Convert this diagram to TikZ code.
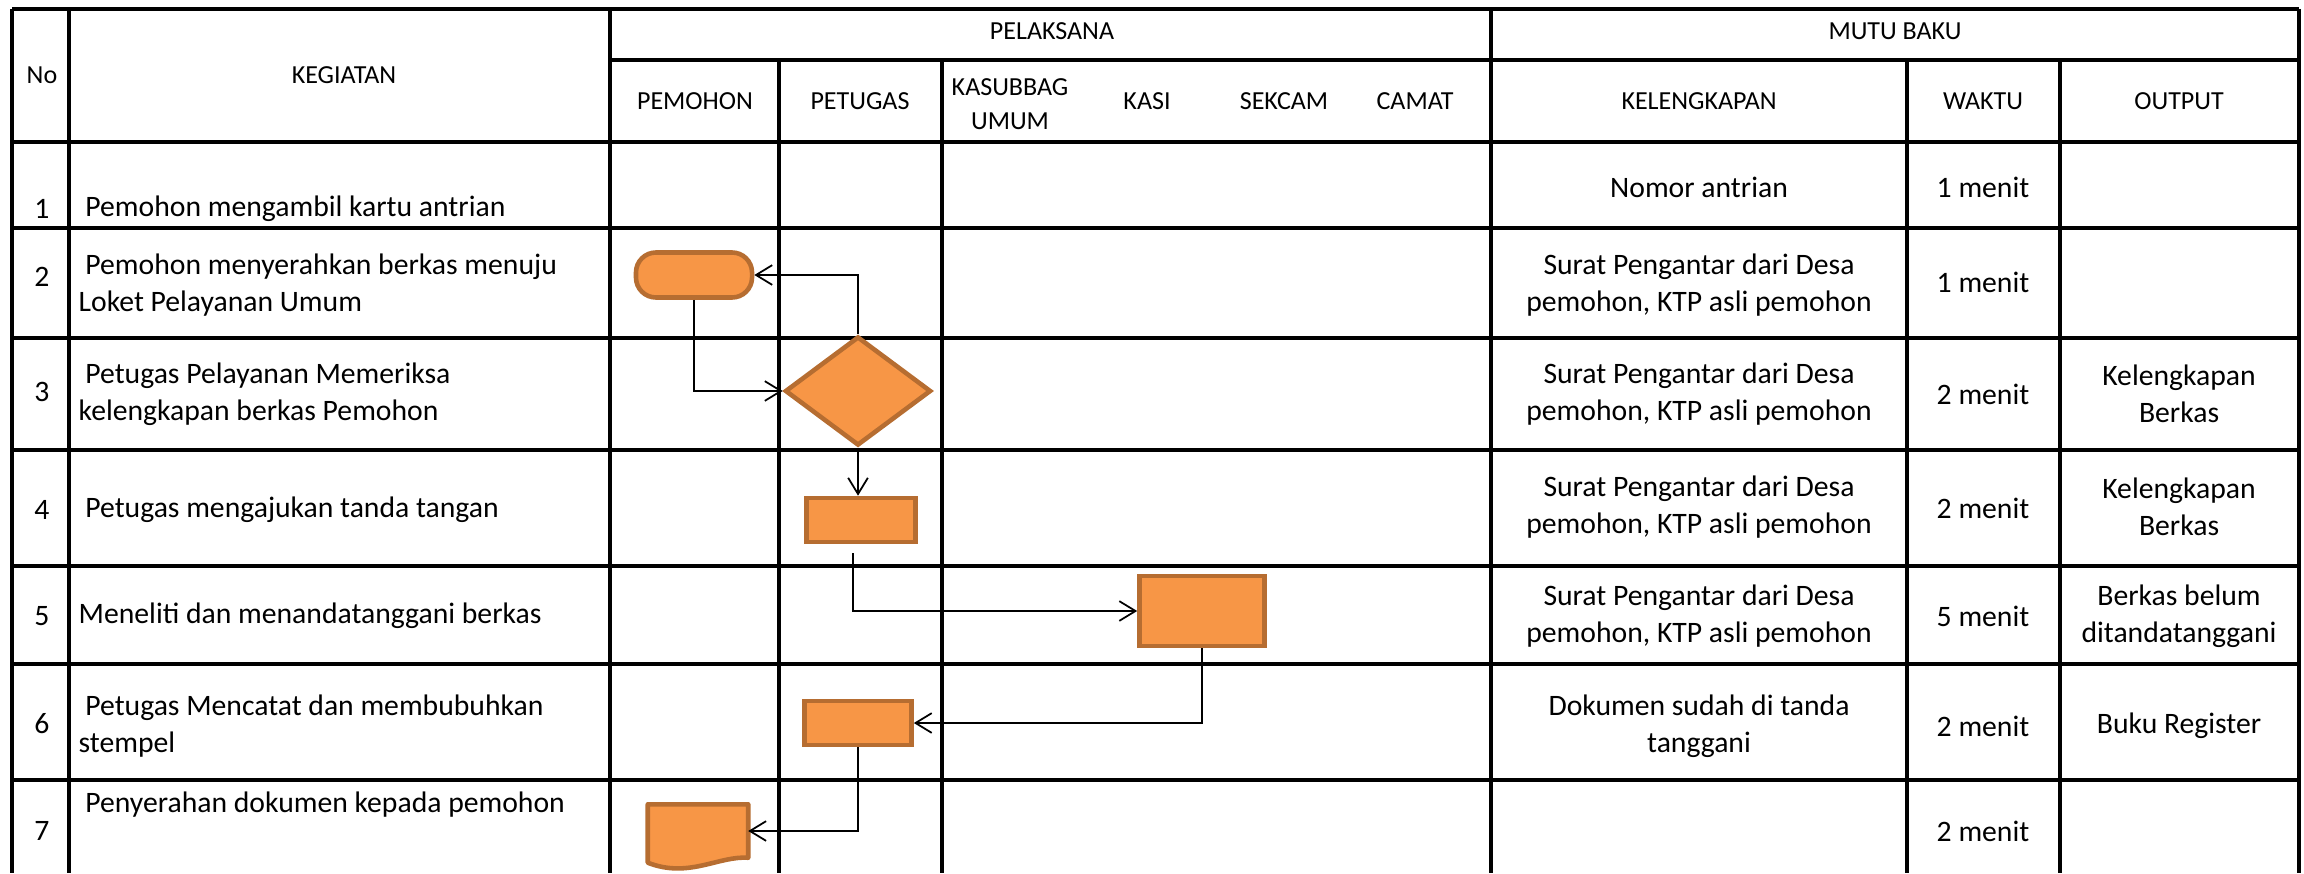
\documentclass[tikz,border=0pt]{standalone}
\usepackage{fontspec}
\setmainfont{Carlito}
\usetikzlibrary{arrows.meta,positioning,calc,shapes.geometric}

\definecolor{boxfill}{HTML}{F79646}
\definecolor{boxline}{HTML}{B66D31}
\tikzset{
  tabline/.style={line width=0.9pt},
  hd/.style={font=\fontsize{7.4}{9.7}\selectfont,inner sep=0pt,align=center},
  tx/.style={font=\fontsize{8.44}{10.5}\selectfont,inner sep=0pt,align=center},
  keg/.style={tx,align=left,anchor=west},
  act/.style={fill=boxfill,draw=boxline,line width=1.3pt,inner sep=0pt},
  flow/.style={line width=0.5pt,-{Straight Barb[length=4.6pt,width=5.6pt]}}
}

\begin{document}
\begin{tikzpicture}[x=0.01cm,y=-0.01cm]
 \useasboundingbox (0,0) rectangle (2304,873);
 % table
 \draw[tabline] (12,9)--(2299,9);
 \draw[tabline] (610,60)--(2299,60);
 \foreach \y in {142,228,338,450,566,664,780}
   \draw[tabline] (12,\y)--(2299,\y);
 \foreach \x in {12,69,610,1491,2299}
   \draw[tabline] (\x,9)--(\x,873);
 \foreach \x in {779,942,1907,2060}
   \draw[tabline] (\x,60)--(\x,873);
 % header
 \node[hd] (hno) at (42,75) {No};
 \node[hd] (hkeg) at (344,75) {KEGIATAN};
 \node[hd] (hpel) at (1052,31) {PELAKSANA};
 \node[hd] (hmutu) at (1895,31) {MUTU BAKU};
 \node[hd] (hpem) at (695,101) {PEMOHON};
 \node[hd] (hpet) at (860,101) {PETUGAS};
 \node[hd] (hkas) at (1010,104) {KASUBBAG\\UMUM};
 \node[hd] (hkasi) at (1147,101) {KASI};
 \node[hd] (hsek) at (1284,101) {SEKCAM};
 \node[hd] (hcam) at (1415,101) {CAMAT};
 \node[hd] (hkel) at (1699,101) {KELENGKAPAN};
 \node[hd] (hwak) at (1983,101) {WAKTU};
 \node[hd] (hout) at (2179,101) {OUTPUT};
 % nomor
 \foreach \i/\y in {1/209,2/277,3/392,4/510,5/616,6/724,7/831}
   \node[tx] (no\i) at (42,\y) {\i};
 % kegiatan
 \node[keg] (k1) at (78,209) {\ Pemohon mengambil kartu antrian};
 \node[keg] (k2) at (78,285) {\ Pemohon menyerahkan berkas menuju\\Loket Pelayanan Umum};
 \node[keg] (k3) at (78,394) {\ Petugas Pelayanan Memeriksa\\kelengkapan berkas Pemohon};
 \node[keg] (k4) at (78,510) {\ Petugas mengajukan tanda tangan};
 \node[keg] (k5) at (78,616) {Meneliti dan menandatanggani berkas};
 \node[keg] (k6) at (78,726) {\ Petugas Mencatat dan membubuhkan\\stempel};
 \node[keg] (k7) at (78,805) {\ Penyerahan dokumen kepada pemohon};
 % kelengkapan
 \node[tx] (l1) at (1699,187) {Nomor antrian};
 \node[tx] (l2) at (1699,285) {Surat Pengantar dari Desa\\pemohon, KTP asli pemohon};
 \node[tx] (l3) at (1699,394) {Surat Pengantar dari Desa\\pemohon, KTP asli pemohon};
 \node[tx] (l4) at (1699,507) {Surat Pengantar dari Desa\\pemohon, KTP asli pemohon};
 \node[tx] (l5) at (1699,616) {Surat Pengantar dari Desa\\pemohon, KTP asli pemohon};
 \node[tx] (l6) at (1699,726) {Dokumen sudah di tanda\\tanggani};
 % waktu
 \foreach \i/\y/\m in {1/187/1,2/282/1,3/394/2,4/508/2,5/616/5,6/726/2,7/831/2}
   \node[tx] (w\i) at (1983,\y) {\m{} menit};
 % output
 \node[tx] (o3) at (2179,394) {Kelengkapan\\Berkas};
 \node[tx] (o4) at (2179,507) {Kelengkapan\\Berkas};
 \node[tx] (o5) at (2179,616) {Berkas belum\\ditandatanggani};
 \node[tx] (o6) at (2179,726) {Buku Register};
 % bagan alir
 \node[act,rounded corners=0.2cm,minimum width=1.16cm,minimum height=0.45cm] (serah) at (694,275) {};
 \node[act,diamond,minimum width=1.46cm,minimum height=1.09cm] (periksa) at (858,391) {};
 \node[act,minimum width=1.09cm,minimum height=0.44cm] (ajukan) at (861,520) {};
 \node[act,minimum width=1.25cm,minimum height=0.70cm] (ttd) at (1202,611) {};
 \node[act,minimum width=1.07cm,minimum height=0.44cm] (catat) at (858,723) {};
 \node[minimum width=0.99cm,minimum height=0.52cm,inner sep=0pt] (dok) at (698,831) {};
 \filldraw[act,line join=round] (dok.north west)--(dok.north east)--(dok.south east)
   .. controls ($(dok.south east)+(-30,-2)$) and ($(dok.south west)+(41,21)$) .. ($(dok.south west)+(0,5)$)--cycle;
 \draw[flow] (periksa.north) |- (serah.east);
 \draw[flow] (serah.south) |- (periksa.west);
 \draw[flow] (periksa.south) -- (periksa.south |- ajukan.north);
 \draw[flow,shorten <=0.09cm] ([xshift=-0.08cm]ajukan.south) |- (ttd.west);
 \draw[flow] (ttd.south) |- (catat.east);
 \draw[flow] (catat.south) |- (dok.east);
\end{tikzpicture}
\end{document}
